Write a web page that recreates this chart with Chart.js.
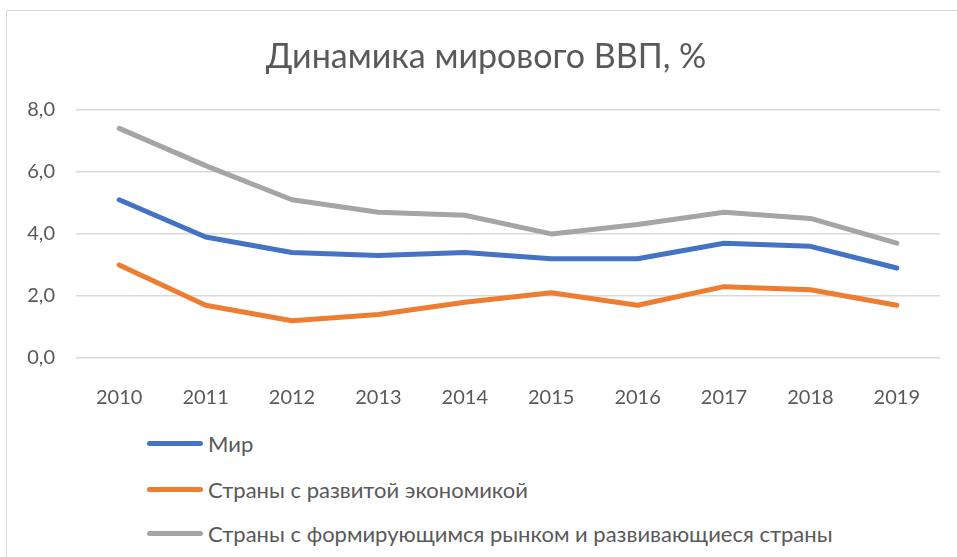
<!DOCTYPE html>
<html>
<head>
<meta charset="utf-8">
<script src="https://cdn.jsdelivr.net/npm/chart.js@4"></script>
<style>
  html, body { margin: 0; padding: 0; background: #fff; }
  #wrap { position: relative; width: 957px; height: 557px; overflow: hidden; }
  #frame { position: absolute; left: 6px; top: 10px; width: 960px; height: 560px;
           border-left: 1.5px solid #d9d9d9; border-top: 1.5px solid #d9d9d9; }
  #cv { position: absolute; left: 0; top: 0; }
  #legend { position: absolute; left: 147px; top: 0; font-family: Lato, "Open Sans", sans-serif;
            font-size: 22px; color: #595959; }
  .item { position: absolute; white-space: nowrap; display: flex; align-items: center; }
  .swatch { width: 56px; height: 5px; border-radius: 3px; margin-right: 5px; }
</style>
</head>
<body>
<div id="wrap">
  <div id="frame"></div>
  <canvas id="cv" width="957" height="410"></canvas>
  <div id="legend"></div>
</div>
<script>
const years = ['2010', '2011', '2012', '2013', '2014', '2015', '2016', '2017', '2018', '2019'];
const world = [5.1, 3.9, 3.4, 3.3, 3.4, 3.2, 3.2, 3.7, 3.6, 2.9];
const advanced = [3.0, 1.7, 1.2, 1.4, 1.8, 2.1, 1.7, 2.3, 2.2, 1.7];
const emerging = [7.4, 6.2, 5.1, 4.7, 4.6, 4.0, 4.3, 4.7, 4.5, 3.7];
const seriesNames = ['Мир', 'Страны с развитой экономикой', 'Страны с формирующимся рынком и развивающиеся страны'];
const yTicks = [0, 2, 4, 6, 8];

const colors = ['#4472C4', '#ED7D31', '#A5A5A5'];
const font = 'Lato, "Open Sans", sans-serif';

const mkSet = (label, data, color) => ({
  label, data,
  borderColor: color, backgroundColor: color,
  borderWidth: 5, pointRadius: 0, tension: 0,
  borderCapStyle: 'round', borderJoinStyle: 'round'
});

// title in the original sits a bit right of the canvas centre
const titleShift = {
  id: 'titleShift',
  afterLayout(chart) {
    if (chart.titleBlock) chart.titleBlock.left += 32;
  }
};

const chart = new Chart(document.getElementById('cv'), {
  type: 'line',
  data: {
    labels: years,
    datasets: [
      mkSet(seriesNames[0], world, colors[0]),
      mkSet(seriesNames[1], advanced, colors[1]),
      mkSet(seriesNames[2], emerging, colors[2])
    ]
  },
  options: {
    responsive: false,
    animation: false,
    layout: { padding: { left: 0, right: 17, top: 0, bottom: 0 } },
    plugins: {
      legend: { display: false },
      tooltip: { enabled: false },
      title: {
        display: true,
        text: 'Динамика мирового ВВП, %',
        color: '#595959',
        font: { family: font, size: 34, weight: 'normal' },
        padding: { top: 37, bottom: 32 }
      }
    },
    scales: {
      x: {
        offset: true,
        grid: { display: false },
        border: { display: false },
        ticks: { color: '#595959', font: { family: font, size: 20 }, padding: 20, maxRotation: 0 },
        afterFit: s => { s.height = 52; }
      },
      y: {
        min: 0, max: 8,
        afterBuildTicks: s => { s.ticks = yTicks.map(v => ({ value: v })); },
        grid: { color: '#d9d9d9', lineWidth: 1.5, drawTicks: false },
        border: { display: false },
        ticks: {
          color: '#595959', font: { family: font, size: 20 }, padding: 21,
          callback: v => v.toFixed(1).replace('.', ',')
        },
        afterFit: s => { s.width = 76; }
      }
    }
  },
  plugins: [titleShift]
});

// legend, one entry per row, built from the chart's datasets
const legendTops = [443, 489, 533];
const legend = document.getElementById('legend');
chart.data.datasets.forEach((ds, i) => {
  const row = document.createElement('div');
  row.className = 'item';
  row.style.top = (legendTops[i] - 13) + 'px';
  row.style.height = '26px';
  row.innerHTML = '<span class="swatch" style="background:' + ds.borderColor + '"></span>' + ds.label;
  legend.appendChild(row);
});
</script>
</body>
</html>
